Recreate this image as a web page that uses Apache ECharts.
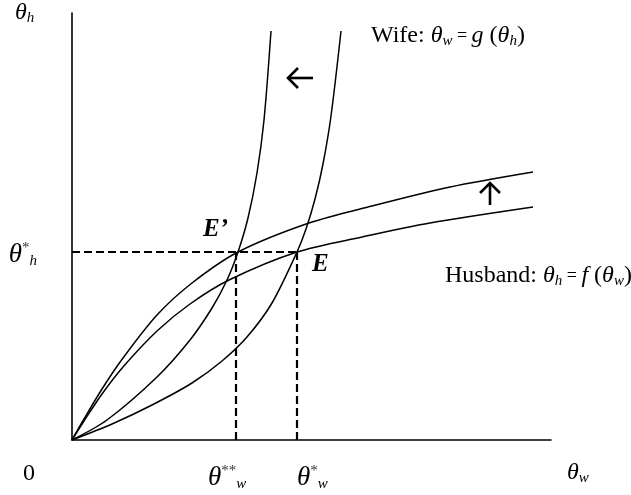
<!DOCTYPE html>
<html>
<head>
<meta charset="utf-8">
<script src="https://cdn.jsdelivr.net/npm/echarts@6/dist/echarts.min.js"></script>
<style>
html,body{margin:0;padding:0;background:#fff}
#chart{width:631px;height:495px}
</style>
</head>
<body>
<div id="chart"></div>
<script>
// reaction curves (x = theta_w, y = theta_h)
const husbandUpper = [[0,0],[12,21],[30,51],[51,82],[85,125],[120,157],[166,188],[237,217],[300,234],[378,253],[461,268]];
const husbandLower = [[0,0],[12,19],[30,46],[51,73],[85,109],[118,136],[157,160],[225,188],[290,203],[358,217],[461,233]];
const wifeLeft = [[0,0],[35,20],[85,63],[118,100],[140,132],[155,160],[166,188],[176,222],[185,267],[192,320],[199,409]];
const wifeRight = [[0,0],[40,16],[80,35],[120,57],[150,79],[175,103],[200,137],[225,188],[234,211],[243,241],[251,276],[259,324],[269,409]];

const thetaH = 188;               // theta*_h
const thetaW = [164, 225];        // theta**_w, theta*_w
const eqPoints = [[166,188],[225,188]];   // E', E
const eqLabels = ["E’", 'E'];
const xTickLabels = ['{T|θ}{sup|**}{sub|w}', '{T|θ}{sup|*}{sub|w}'];
const yTickLabel = '{T|θ}{sup|*}{sub|h}';
const arrowTips = [[216,362,'left'],[418,257,'up']];

const SERIF = 'Liberation Serif';
const RICH = {
    t: {fontFamily: SERIF, fontStyle: 'italic', fontSize: 24, lineHeight: 26, fill: '#000'},
    T: {fontFamily: SERIF, fontStyle: 'italic', fontSize: 27, lineHeight: 28, fill: '#000'},
    r: {fontFamily: SERIF, fontSize: 24, lineHeight: 26, fill: '#000'},
    eq: {fontFamily: SERIF, fontSize: 18, lineHeight: 26, fill: '#000'},
    sub: {fontFamily: SERIF, fontStyle: 'italic', fontSize: 15, lineHeight: 8, verticalAlign: 'bottom', fill: '#000'},
    sup: {fontFamily: SERIF, fontSize: 15, lineHeight: 8, verticalAlign: 'top', fill: '#333'},
    b: {fontFamily: SERIF, fontStyle: 'italic', fontWeight: 'bold', fontSize: 25, fill: '#000'}
};

const myChart = echarts.init(document.getElementById('chart'));

function curve(data){
    return {type: 'line', data: data, showSymbol: false, smooth: 0.3,
        lineStyle: {color: '#000', width: 1.5}, silent: true};
}
const dash = {type: [8, 4], width: 2.2, color: '#000'};
const seriesList = [husbandUpper, husbandLower, wifeLeft, wifeRight].map(curve);
seriesList[0].markLine = {
    silent: true, symbol: 'none', label: {show: false}, lineStyle: dash,
    data: [
        [{coord: [0, thetaH]}, {coord: [thetaW[1], thetaH]}],
        [{coord: [thetaW[0], 0]}, {coord: [thetaW[0], thetaH]}],
        [{coord: [thetaW[1], 0]}, {coord: [thetaW[1], thetaH]}]
    ]
};

const axisCommon = {
    type: 'value', min: 0,
    axisLine: {show: true, lineStyle: {color: '#000', width: 1.6}},
    axisTick: {show: false}, axisLabel: {show: false}, splitLine: {show: false}
};

myChart.setOption({
    animation: false,
    grid: {left: 72, right: 80, top: 13, bottom: 55},
    xAxis: Object.assign({}, axisCommon, {max: 479}),
    yAxis: Object.assign({}, axisCommon, {max: 427}),
    series: seriesList
});

function px(p){ return myChart.convertToPixel({gridIndex: 0}, p); }
function txt(x, y, text, align, extra){
    return Object.assign({type: 'text', x: x, y: y, silent: true,
        style: {text: text, rich: RICH, align: align, verticalAlign: 'middle'}}, extra || {});
}

const g = [];
// fixed annotations
g.push(txt(15, 13, '{t|θ}{sub|h}', 'left'));
g.push(txt(29, 474, '{r|0}', 'center'));
g.push(txt(567, 473, '{t|θ}{sub|w}', 'left'));
g.push(txt(371, 36, '{r|Wife: }{t|θ}{sub|w}{eq| = }{t|g}{r| (}{t|θ}{sub|h}{r|)}', 'left'));
g.push(txt(445, 276, '{r|Husband: }{t|θ}{sub|h}{eq| = }{t|f}{r| (}{t|θ}{sub|w}{r|)}', 'left'));

// tick labels tied to data values
let p = px([0, thetaH]);
g.push(txt(p[0] - 35, p[1] + 3, yTickLabel, 'right'));
p = px([thetaW[0], 0]);
g.push(txt(p[0] - 28, p[1] + 38, xTickLabels[0], 'left'));
p = px([thetaW[1], 0]);
g.push(txt(p[0], p[1] + 38, xTickLabels[1], 'left'));

// equilibrium labels
p = px(eqPoints[0]);
g.push(txt(p[0] - 10, p[1] - 22, '{b|' + eqLabels[0] + '}', 'right'));
p = px(eqPoints[1]);
g.push(txt(p[0] + 15, p[1] + 13, '{b|' + eqLabels[1] + '}', 'left'));

// shift arrows
arrowTips.forEach(a => {
    const t = px([a[0], a[1]]);
    const st = {stroke: '#000', lineWidth: 2.6, fill: null};
    if (a[2] === 'left') {
        g.push({type: 'polyline', silent: true, shape: {points: [[t[0], t[1]], [t[0] + 25, t[1]]]}, style: st});
        g.push({type: 'polyline', silent: true, shape: {points: [[t[0] + 10, t[1] - 10], [t[0], t[1]], [t[0] + 10, t[1] + 10]]}, style: st});
    } else {
        g.push({type: 'polyline', silent: true, shape: {points: [[t[0], t[1]], [t[0], t[1] + 22]]}, style: st});
        g.push({type: 'polyline', silent: true, shape: {points: [[t[0] - 10, t[1] + 10], [t[0], t[1]], [t[0] + 10, t[1] + 10]]}, style: st});
    }
});

myChart.setOption({graphic: g});
window.addEventListener('resize', () => myChart.resize());
</script>
</body>
</html>
